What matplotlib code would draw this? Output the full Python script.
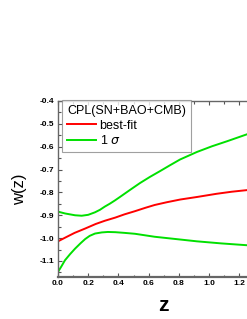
import matplotlib
matplotlib.use("Agg")
import matplotlib.pyplot as plt
from matplotlib.ticker import MultipleLocator, FormatStrFormatter

plt.rcParams['font.family'] = ['Liberation Sans', 'DejaVu Sans']
plt.rcParams['axes.unicode_minus'] = False

# values
z_fit = [0.0, 0.05, 0.11, 0.18, 0.25, 0.31, 0.38, 0.44, 0.51, 0.58, 0.64, 0.72,
         0.81, 0.92, 1.05, 1.15, 1.25, 1.4]
w_fit = [-1.014, -0.997, -0.977, -0.958, -0.938, -0.924, -0.91, -0.896, -0.882,
         -0.867, -0.855, -0.843, -0.831, -0.82, -0.806, -0.797, -0.79, -0.779]

z_up = [0.0, 0.046, 0.113, 0.157, 0.2, 0.245, 0.278, 0.31, 0.344, 0.377, 0.41, 0.477,
        0.543, 0.609, 0.675, 0.742, 0.808, 0.92, 1.02, 1.12, 1.25, 1.4]
w_up = [-0.884, -0.892, -0.9, -0.902, -0.898, -0.887, -0.876, -0.862, -0.849, -0.835,
        -0.82, -0.789, -0.759, -0.732, -0.707, -0.681, -0.656, -0.623, -0.598, -0.576,
        -0.546, -0.515]

z_lo = [0.0, 0.024, 0.046, 0.08, 0.113, 0.15, 0.18, 0.21, 0.245, 0.29, 0.33, 0.38,
        0.44, 0.51, 0.58, 0.64, 0.78, 0.92, 1.08, 1.25, 1.4]
w_lo = [-1.148, -1.122, -1.097, -1.07, -1.046, -1.022, -1.004, -0.99, -0.98, -0.975,
        -0.973, -0.974, -0.977, -0.981, -0.988, -0.994, -1.004, -1.014, -1.023, -1.031,
        -1.036]

x_ticks = [0.0, 0.2, 0.4, 0.6, 0.8, 1.0, 1.2, 1.4]
x_ticklabels = ['0.0', '0.2', '0.4', '0.6', '0.8', '1.0', '1.2', '']

fig = plt.figure(figsize=(2.47, 3.19), dpi=100)
ax = fig.add_axes([0.2348, 0.1317, 0.856, 0.5517])

ax.plot(z_fit, w_fit, color='#ff0000', lw=1.4, label='best-fit')
ax.plot(z_up, w_up, color='#00e000', lw=1.4, label='1 $\\sigma$')
ax.plot(z_lo, w_lo, color='#00e000', lw=1.4)

ax.set_xlim(0, 1.4)
ax.set_ylim(-1.17, -0.4)
ax.set_xticks(x_ticks, x_ticklabels)
ax.xaxis.set_minor_locator(MultipleLocator(0.1))
ax.yaxis.set_major_locator(MultipleLocator(0.1))
ax.yaxis.set_minor_locator(MultipleLocator(0.05))
ax.yaxis.set_major_formatter(FormatStrFormatter('%.1f'))

ax.tick_params(which='both', direction='in', top=True, right=True,
               labelsize=6, pad=2.5, color='#555555')
ax.tick_params(which='major', length=3, width=0.8)
ax.tick_params(which='minor', length=1.8, width=0.8)
for lab in ax.get_xticklabels() + ax.get_yticklabels():
    lab.set_fontweight('bold')
for sp in ax.spines.values():
    sp.set_color('#666666')
    sp.set_linewidth(1.0)
ax.spines['bottom'].set_linewidth(1.6)

ax.set_xlabel('z', fontsize=15, fontweight='bold', labelpad=6)
ax.set_ylabel('w(z)', fontsize=12, labelpad=9)

leg = ax.legend(title='CPL(SN+BAO+CMB)', loc='upper left',
                bbox_to_anchor=(62 / 247, 1 - 100 / 319), bbox_transform=fig.transFigure,
                borderaxespad=0, fontsize=9, title_fontsize=9, frameon=True,
                fancybox=False, handlelength=2.3, handletextpad=0.3,
                borderpad=0.4, labelspacing=0.2, alignment='left')
leg.get_frame().set_edgecolor('#888888')
leg.get_frame().set_linewidth(0.8)

fig.savefig('out.png', dpi=100)
